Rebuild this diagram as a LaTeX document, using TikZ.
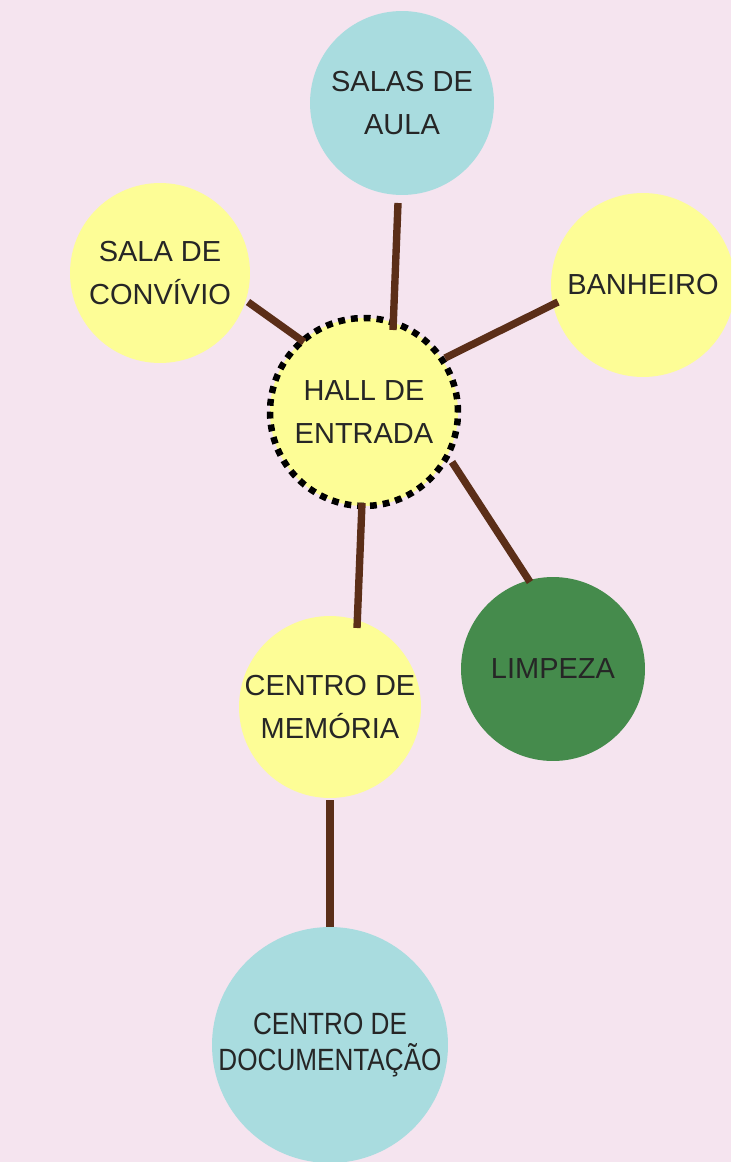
\documentclass[tikz,border=0pt]{standalone}
\usepackage{fontspec}
\setmainfont{Liberation Sans}
\usepackage{xcolor}

\definecolor{bgpink}{HTML}{F5E4EF}
\definecolor{roomblue}{HTML}{A9DCDF}
\definecolor{roomyellow}{HTML}{FDFD96}
\definecolor{roomgreen}{HTML}{458B4C}
\definecolor{linkbrown}{HTML}{5B2E18}
\definecolor{labelgray}{HTML}{262626}

\tikzset{
  room/.style={circle, inner sep=0pt, align=center, text=labelgray,
    font=\fontsize{16.5}{24}\selectfont},
  link/.style={line width=4.2pt, linkbrown},
}

\begin{document}
\begin{tikzpicture}[x=0.02cm, y=-0.02cm]
    \fill[bgpink] (0,0) rectangle (731,1162);
    \useasboundingbox (0,0) rectangle (731,1162);
    \clip (0,0) rectangle (731,1162);

    % rooms
    \node[room, fill=roomblue, minimum size=3.68cm] (salas) at (402,103) {SALAS DE\\AULA};
    \node[room, fill=roomyellow, minimum size=3.6cm] (convivio) at (160,273) {SALA DE\\CONVÍVIO};
    \node[room, fill=roomyellow, minimum size=3.68cm] (banheiro) at (643,285) {BANHEIRO};
    \node[room, fill=roomyellow, minimum size=3.76cm, draw=black, line width=3.7pt,
          dash pattern=on 3.9pt off 3.4pt] (hall) at (364,412) {HALL DE\\ENTRADA};
    \node[room, fill=roomyellow, minimum size=3.64cm] (memoria) at (330,707) {CENTRO DE\\MEMÓRIA};
    \node[room, fill=roomgreen, minimum size=3.68cm] (limpeza) at (553,669) {LIMPEZA};
    \node[room, fill=roomblue, minimum size=4.72cm,
          font={\fontsize{17.5}{20}\selectfont\addfontfeature{FakeStretch=0.85}}]
          (documentacao) at (330,1045) {CENTRO DE\\DOCUMENTAÇÃO};

    % connector ends
    \coordinate (salas-a) at (398,203);
    \coordinate (salas-b) at (393,330);
    \coordinate (convivio-a) at (248,302);
    \coordinate (convivio-b) at (304,342);
    \coordinate (banheiro-a) at (558,302);
    \coordinate (banheiro-b) at (445,358);
    \coordinate (limpeza-a) at (452,462);
    \coordinate (limpeza-b) at (530,582);
    \coordinate (memoria-a) at (362,503);
    \coordinate (memoria-b) at (357,628);
    \coordinate (doc-a) at (330,800);
    \coordinate (doc-b) at (330,927);

    \draw[link] (salas-a) -- (salas-b);
    \draw[link] (convivio-a) -- (convivio-b);
    \draw[link] (banheiro-a) -- (banheiro-b);
    \draw[link] (limpeza-a) -- (limpeza-b);
    \draw[link] (memoria-a) -- (memoria-b);
    \draw[link] (doc-a) -- (doc-b);
\end{tikzpicture}
\end{document}
